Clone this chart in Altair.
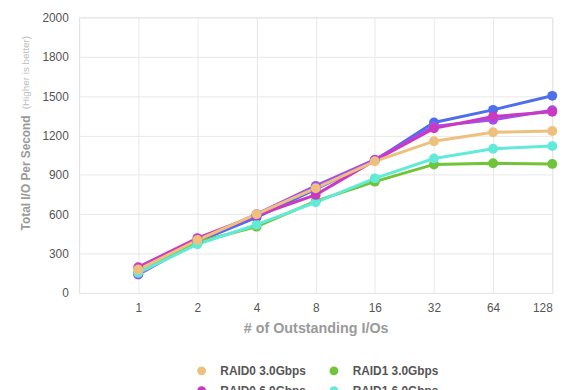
import math
import altair as alt
import pandas as pd

ios = [1, 2, 4, 8, 16, 32, 64, 128]

# legend order (Vega fills legend columns top to bottom)
series_names = ["RAID0 3.0Gbps", "RAID0 6.0Gbps", "RAID10 3.0Gbps",
                "RAID1 3.0Gbps", "RAID1 6.0Gbps", "RAID10 6.0Gbps"]
colors = ["#EEC07D", "#C93AC3", "#A150EB", "#70C43A", "#62EAD9", "#4E6EEC"]

raid10_6g = [140, 390, 575, 790, 1010, 1299, 1395, 1502]
raid10_3g = [143, 395, 600, 815, 1016, 1269, 1320, 1392]
raid1_3g = [163, 386, 505, 700, 848, 979, 988, 983]
raid1_6g = [153, 371, 520, 690, 873, 1024, 1099, 1119]
raid0_6g = [196, 418, 590, 747, 1010, 1254, 1344, 1380]
raid0_3g = [178, 403, 600, 798, 1003, 1156, 1224, 1234]

y_ticks = [0, 300, 600, 900, 1200, 1500, 1800, 2100]
y_top_label = "2000"

# drawing order (last on top)
draw = [
    ("RAID10 6.0Gbps", raid10_6g),
    ("RAID10 3.0Gbps", raid10_3g),
    ("RAID1 3.0Gbps", raid1_3g),
    ("RAID1 6.0Gbps", raid1_6g),
    ("RAID0 6.0Gbps", raid0_6g),
    ("RAID0 3.0Gbps", raid0_3g),
]

rows = []
for name, vals in draw:
    for n, v in zip(ios, vals):
        rows.append({"series": name, "ios": n, "lg": math.log2(n), "iops": v})
df = pd.DataFrame(rows)

FONT = "Liberation Sans"

x = alt.X("lg:Q",
          scale=alt.Scale(domain=[-1, 7], nice=False, zero=False),
          axis=alt.Axis(values=list(range(8)), labelExpr="pow(2, datum.value)",
                        title="# of Outstanding I/Os", titleY=36, titleBaseline="middle",
                        titleColor="#9a9a9a", titleFontSize=14.5, titleFontWeight="bold",
                        labelColor="#555555", labelFontSize=12, labelPadding=10,
                        domain=False, ticks=False, gridColor="#e8e8e8"))
y = alt.Y("iops:Q",
          scale=alt.Scale(domain=[0, 2100], nice=False),
          axis=alt.Axis(values=y_ticks,
                        labelExpr=f"datum.value == 2100 ? '{y_top_label}' : datum.value",
                        title="Total I/O Per Second", titleX=-54, titleY=157,
                        titleAlign="center", titleBaseline="middle", titleAngle=270,
                        titleColor="#9a9a9a", titleFontSize=12, titleFontWeight="bold",
                        labelColor="#555555", labelFontSize=12, labelPadding=11,
                        domain=False, ticks=False, gridColor="#e8e8e8"))
color = alt.Color("series:N",
                  scale=alt.Scale(domain=series_names, range=colors),
                  legend=alt.Legend(title=None, orient="none", legendX=118, legendY=352,
                                    columns=2, symbolType="circle", symbolSize=80,
                                    symbolStrokeWidth=0, labelFont=FONT, labelFontSize=12,
                                    labelFontWeight="bold", labelColor="#555555",
                                    labelOffset=13, columnPadding=15, rowPadding=8))

lines = alt.Chart(df).mark_line(strokeWidth=3, opacity=1).encode(x=x, y=y, color=color,
                                                                  detail="series:N")
points = alt.Chart(df).mark_circle(size=100, opacity=1).encode(x=x, y=y, color=color)

sub = alt.Chart(pd.DataFrame({"t": ["(Higher is better)"]})).mark_text(
    angle=270, align="center", baseline="middle", font=FONT, fontSize=10, color="#bbbbbb"
).encode(text="t:N", x=alt.value(-54), y=alt.value(56))

chart = alt.layer(lines, points, sub).properties(
    width=479, height=279,
    autosize=alt.AutoSizeParams(type="none"),
    padding={"left": 72, "top": 7, "right": 20, "bottom": 110},
).configure_view(stroke="#bdbdbd", strokeWidth=1).configure(font=FONT)

chart.save("out.html", embed_options={"renderer": "svg", "actions": False})
